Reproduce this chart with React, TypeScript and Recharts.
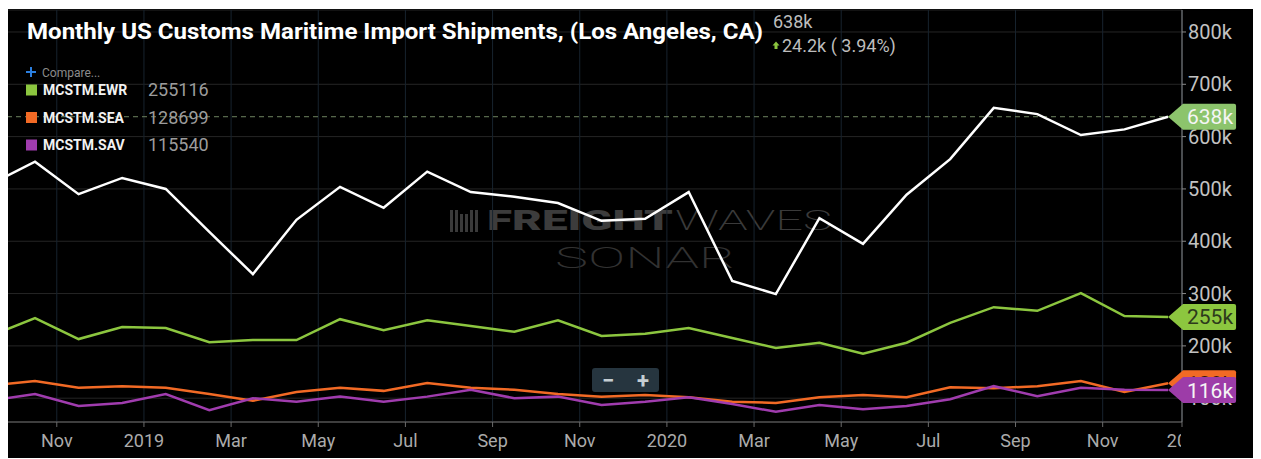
import React from "react";
import {
  LineChart,
  Line,
  XAxis,
  YAxis,
  CartesianGrid,
  ReferenceLine,
  ReferenceDot,
} from "recharts";

// ---------- data (monthly, Sep 2018 .. Dec 2020) ----------
const months = [
  "2018-09", "2018-10", "2018-11", "2018-12",
  "2019-01", "2019-02", "2019-03", "2019-04", "2019-05", "2019-06",
  "2019-07", "2019-08", "2019-09", "2019-10", "2019-11", "2019-12",
  "2020-01", "2020-02", "2020-03", "2020-04", "2020-05", "2020-06",
  "2020-07", "2020-08", "2020-09", "2020-10", "2020-11", "2020-12",
];

const losAngeles = [
  510000, 552000, 490000, 521000, 500000, 418000, 337000, 441000, 504000, 464000,
  533000, 494000, 485000, 473000, 439000, 443000, 494000, 324000, 299000, 444000,
  395000, 489000, 557000, 655000, 643000, 603000, 613800, 638000,
];

const ewr = [
  220000, 253000, 213000, 236000, 234000, 207000, 211000, 211000, 251000, 230000,
  249000, 238000, 227000, 249000, 219000, 223000, 234000, 215000, 196000, 206000,
  185000, 206000, 244000, 274000, 267000, 301000, 257000, 255116,
];

const sea = [
  124000, 133000, 120000, 123000, 120000, 108000, 95000, 112000, 120000, 114000,
  129000, 120000, 116000, 108000, 103000, 106000, 102000, 93000, 91000, 102000,
  106000, 102000, 121000, 119000, 123000, 133000, 112000, 128699,
];

const sav = [
  96000, 108000, 85000, 91000, 108000, 77000, 100000, 93000, 103000, 93000,
  103000, 116000, 100000, 103000, 87000, 93000, 102000, 89000, 74000, 87000,
  79000, 85000, 98000, 123000, 104000, 120000, 116000, 115540,
];

const xTickLabels = [
  "Nov", "2019", "Mar", "May", "Jul", "Sep", "Nov",
  "2020", "Mar", "May", "Jul", "Sep", "Nov", "2021",
];

const yTicks = [100000, 200000, 300000, 400000, 500000, 600000, 700000, 800000];

const legendItems = [
  { name: "MCSTM.EWR", color: "#8cc63f", values: ewr },
  { name: "MCSTM.SEA", color: "#f26a25", values: sea },
  { name: "MCSTM.SAV", color: "#a03cae", values: sav },
];

// month index: Oct 2018 = 0 (mid-month points), month starts at x.5
const data = months.map((m, i) => ({
  t: i - 1,
  month: m,
  la: losAngeles[i],
  ewr: ewr[i],
  sea: sea[i],
  sav: sav[i],
}));

const X_MIN = -0.6425;
const X_MAX = 26.32;
const Y_MIN = 54500;
const Y_MAX = 842000;

const xTicks = xTickLabels.map((_, j) => Math.min(0.5 + 2 * j, X_MAX));
const lastT = data[data.length - 1].t;
const last = (a: number[]) => a[a.length - 1];

const fmtK = (v: number) => `${Math.round(v / 1000)}k`;

const FONT = "Roboto, 'Noto Sans', sans-serif";

const XTick = (props: any) => {
  const { x, y, index, payload } = props;
  let idx = typeof index === "number" ? index : xTicks.indexOf(payload?.value);
  const label = xTickLabels[idx] ?? "";
  const isLast = idx === xTickLabels.length - 1;
  if (isLast) {
    return (
      <g>
        <defs>
          <clipPath id="lastXTickClip">
            <rect x={x - 40} y={y - 6} width={39} height={30} />
          </clipPath>
        </defs>
        <text
          x={x + 5}
          y={y}
          dy="0.71em"
          textAnchor="middle"
          fill="#ababab"
          fontSize={18}
          fontFamily={FONT}
          clipPath="url(#lastXTickClip)"
        >
          {label}
        </text>
      </g>
    );
  }
  return (
    <text
      x={x}
      y={y}
      dy="0.71em"
      textAnchor="middle"
      fill="#ababab"
      fontSize={18}
      fontFamily={FONT}
    >
      {label}
    </text>
  );
};

const makeFlag =
  (fill: string, textFill: string, text: string) => (props: any) => {
    const { cx, cy } = props;
    if (cx == null || cy == null) return <g />;
    const h = 13;
    const d = `M${cx},${cy} L${cx + 15},${cy - h} H${cx + 66} Q${cx + 68},${cy - h} ${cx + 68},${cy - h + 2} V${cy + h - 2} Q${cx + 68},${cy + h} ${cx + 66},${cy + h} H${cx + 15} Z`;
    return (
      <g>
        <path d={d} fill={fill} />
        <text
          x={cx + 65}
          y={cy}
          dy="0.355em"
          textAnchor="end"
          fontSize={21}
          fontFamily={FONT}
          fill={textFill}
        >
          {text}
        </text>
      </g>
    );
  };

export default function App() {
  const W = 1252;
  const H = 450;
  const laLast = last(losAngeles);
  const laPrev = losAngeles[losAngeles.length - 2];
  const delta = laLast - laPrev;
  const pct = (delta / laPrev) * 100;

  return (
    <div
      style={{
        position: "relative",
        left: -1,
        top: 1,
        width: W,
        height: H,
        background: "#000",
        overflow: "hidden",
      }}
    >
      {/* watermark (behind lines) */}
      <svg
        width={W}
        height={H}
        style={{ position: "absolute", left: 0, top: 0 }}
      >
        <g fill="#3a3a3a">
          <rect x={443} y={201} width={3} height={22} />
          <rect x={448} y={201} width={3} height={22} />
          <rect x={453} y={205} width={3} height={18} />
          <rect x={458} y={205} width={3} height={18} />
          <rect x={463} y={201} width={3} height={22} />
          <rect x={468} y={201} width={3} height={22} />
        </g>
        <text
          x={480}
          y={221}
          fontSize={28}
          fontWeight={900}
          fontFamily={FONT}
          fill="#3c3c3c"
          textLength={186}
          lengthAdjust="spacingAndGlyphs"
        >
          FREIGHT
        </text>
        <text
          x={668}
          y={221}
          fontSize={28}
          fontWeight={200}
          fontFamily={FONT}
          fill="#3a3a3a"
          textLength={157}
          lengthAdjust="spacingAndGlyphs"
        >
          WAVES
        </text>
        <text
          x={548}
          y={259}
          fontSize={30}
          fontWeight={200}
          fontFamily={FONT}
          fill="#323232"
          textLength={180}
          lengthAdjust="spacingAndGlyphs"
        >
          SONAR
        </text>
      </svg>

      <LineChart
        width={W}
        height={H}
        data={data}
        margin={{ top: 1, right: 7, bottom: 7, left: 0 }}
      >
        <CartesianGrid horizontal vertical={false} stroke="#252525" />
        <CartesianGrid horizontal={false} vertical stroke="#17232e" />
        <XAxis
          type="number"
          dataKey="t"
          domain={[X_MIN, X_MAX]}
          allowDataOverflow
          ticks={xTicks}
          interval={0}
          tick={(p: any) => <XTick {...p} />}
          tickSize={5}
          tickMargin={7}
          height={30}
          axisLine={{ stroke: "#6b6b6b" }}
          tickLine={{ stroke: "#6b6b6b" }}
        />
        <YAxis
          orientation="right"
          type="number"
          domain={[Y_MIN, Y_MAX]}
          allowDataOverflow
          ticks={yTicks}
          interval={0}
          width={70}
          tickSize={4}
          tickMargin={2}
          tickFormatter={fmtK}
          tick={{ fill: "#c2c2c2", fontSize: 20, fontFamily: FONT }}
          axisLine={{ stroke: "#8a8a8a" }}
          tickLine={{ stroke: "#8a8a8a" }}
        />
        <ReferenceLine
          y={laLast}
          stroke="#6f8460"
          strokeDasharray="5 4"
          strokeWidth={1}
        />
        <Line
          type="linear"
          dataKey="la"
          stroke="#ffffff"
          strokeWidth={2.5}
          dot={false}
          activeDot={false}
          isAnimationActive={false}
        />
        <Line
          type="linear"
          dataKey="ewr"
          stroke="#8cc63f"
          strokeWidth={2.5}
          dot={false}
          activeDot={false}
          isAnimationActive={false}
        />
        <Line
          type="linear"
          dataKey="sea"
          stroke="#f26a25"
          strokeWidth={2.5}
          dot={false}
          activeDot={false}
          isAnimationActive={false}
        />
        <Line
          type="linear"
          dataKey="sav"
          stroke="#a03cae"
          strokeWidth={2.5}
          dot={false}
          activeDot={false}
          isAnimationActive={false}
        />
        <ReferenceDot
          {...({ zIndex: 3000 } as any)}
          x={lastT}
          y={laLast}
          r={0}
          ifOverflow="visible"
          shape={makeFlag("#8cc46c", "#f5f5f5", fmtK(laLast))}
        />
        <ReferenceDot
          {...({ zIndex: 3001 } as any)}
          x={lastT}
          y={last(ewr)}
          r={0}
          ifOverflow="visible"
          shape={makeFlag("#8cc63f", "#2c3a1c", fmtK(last(ewr)))}
        />
        <ReferenceDot
          {...({ zIndex: 3002 } as any)}
          x={lastT}
          y={last(sea)}
          r={0}
          ifOverflow="visible"
          shape={makeFlag("#f26a25", "#3a1a08", fmtK(last(sea)))}
        />
        <ReferenceDot
          {...({ zIndex: 3003 } as any)}
          x={lastT}
          y={last(sav)}
          r={0}
          ifOverflow="visible"
          shape={makeFlag("#9d3ca8", "#f5f5f5", fmtK(last(sav)))}
        />
      </LineChart>

      {/* overlay: title, legend, zoom buttons */}
      <svg
        width={W}
        height={H}
        style={{ position: "absolute", left: 0, top: 0, pointerEvents: "none" }}
      >
        <text
          x={20}
          y={30}
          fontSize={22.5}
          fontWeight={700}
          fontFamily={FONT}
          fill="#ffffff"
          textLength={736}
          lengthAdjust="spacingAndGlyphs"
        >
          Monthly US Customs Maritime Import Shipments, (Los Angeles, CA)
        </text>
        <text x={766} y={19} fontSize={18} fontFamily={FONT} fill="#bdbdbd">
          {fmtK(laLast)}
        </text>
        <path d="M769,32.5 L772.5,36.5 L770.5,36.5 L770.5,40 L767.5,40 L767.5,36.5 L765.5,36.5 Z" fill="#8cc63f" />
        <text x={775} y={42.5} fontSize={18} fontFamily={FONT} fill="#bdbdbd">
          {`${(delta / 1000).toFixed(1)}k ( ${pct.toFixed(2)}%)`}
        </text>

        {/* Compare */}
        <rect x={19} y={62} width={10} height={2} fill="#2b7fe0" />
        <rect x={23} y={58} width={2} height={10} fill="#2b7fe0" />
        <text x={35} y={67.5} fontSize={12} fontFamily={FONT} fill="#8c8c8c">
          Compare...
        </text>

        {legendItems.map((it, i) => {
          const cy = 81 + i * 27.5;
          return (
            <g key={it.name}>
              <rect x={19} y={cy - 5.5} width={11} height={11} fill={it.color} />
              <text
                x={36}
                y={cy + 5}
                fontSize={14}
                fontWeight={700}
                fontFamily={FONT}
                fill="#f2f2f2"
              >
                {it.name}
              </text>
              <text
                x={141}
                y={cy + 6.4}
                fontSize={18}
                fontFamily={FONT}
                fill="#9c9c9c"
              >
                {String(last(it.values))}
              </text>
            </g>
          );
        })}

        {/* zoom buttons */}
        <rect x={585} y={359} width={67} height={24} rx={3} fill="#26353f" />
        <text
          x={601}
          y={371}
          dy="0.35em"
          textAnchor="middle"
          fontSize={22}
          fontWeight={700}
          fontFamily={FONT}
          fill="#c5ced3"
        >
          −
        </text>
        <text
          x={636}
          y={371}
          dy="0.35em"
          textAnchor="middle"
          fontSize={22}
          fontWeight={700}
          fontFamily={FONT}
          fill="#c5ced3"
        >
          +
        </text>
      </svg>
    </div>
  );
}
